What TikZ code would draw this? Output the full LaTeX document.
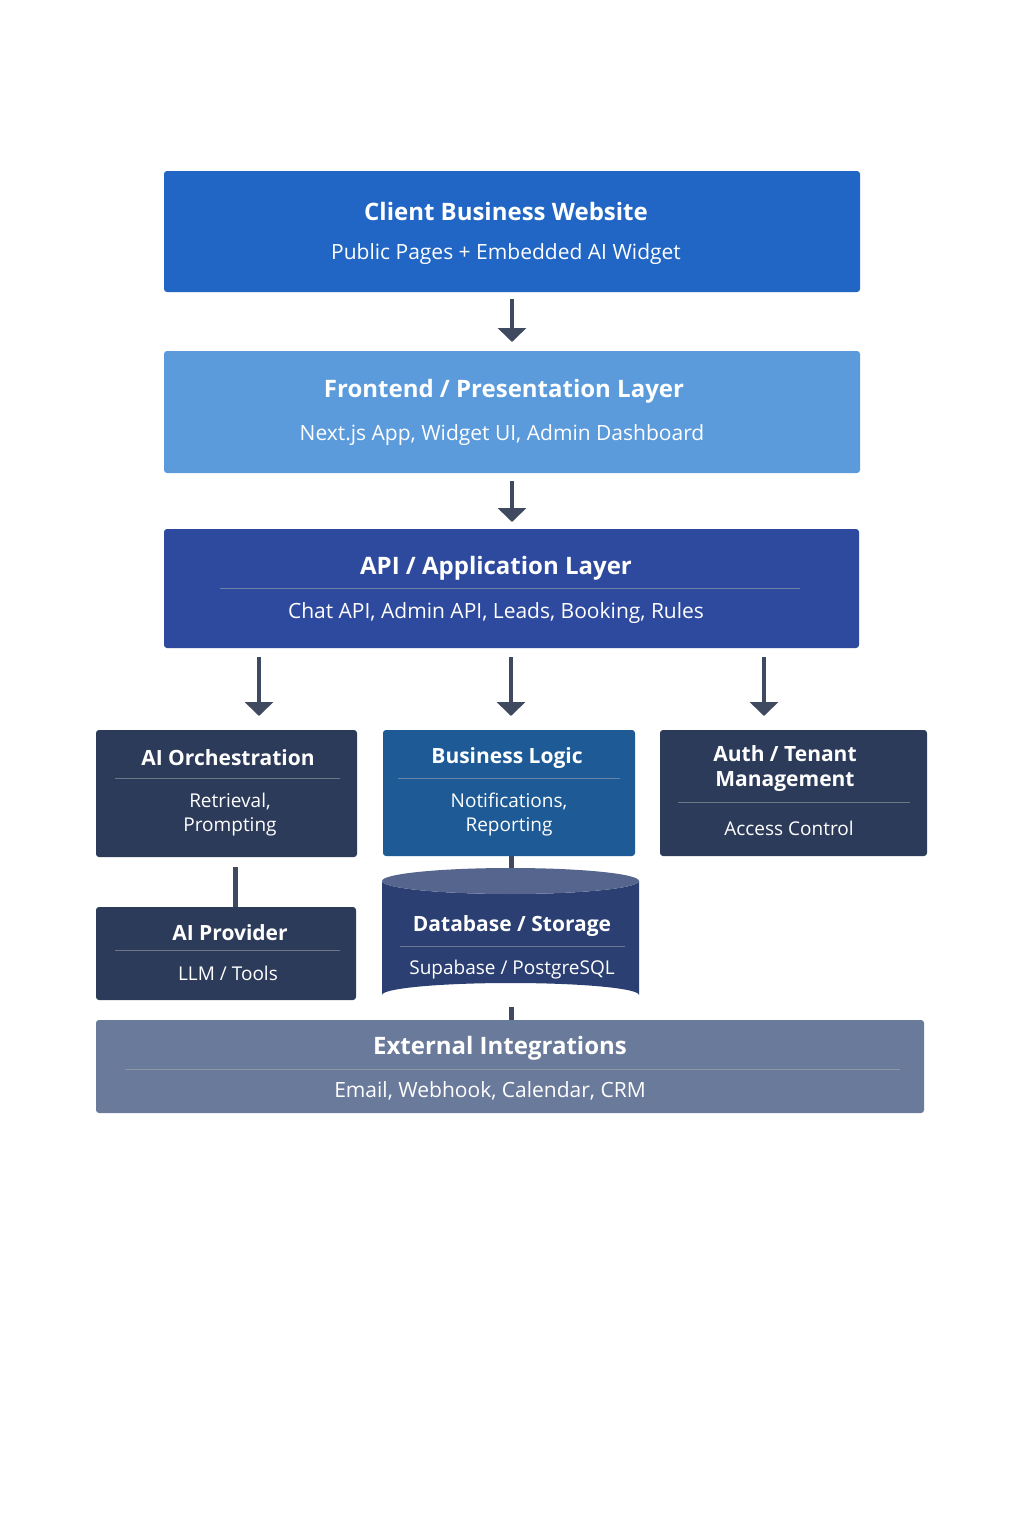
\documentclass[tikz,border=0pt]{standalone}
\usepackage{fontspec}
\setmainfont{Open Sans}
\usetikzlibrary{arrows.meta,shapes.geometric}
\definecolor{cA}{HTML}{2166C4}
\definecolor{cB}{HTML}{5B9BDB}
\definecolor{cC}{HTML}{2E4A9E}
\definecolor{cD}{HTML}{2D3B5A}
\definecolor{cE}{HTML}{1E5A96}
\definecolor{cF}{HTML}{2B3F72}
\definecolor{cG}{HTML}{6A7A9A}
\definecolor{ar}{HTML}{3F4A60}
\begin{document}
\begin{tikzpicture}[x=1pt,y=-1pt,
  box/.style={draw=none,rounded corners=3pt},
  ttl/.style={text=white,font=\bfseries\fontsize{24}{28}\selectfont,align=center},
  sub/.style={text=white,font=\fontsize{21}{26}\selectfont,align=center},
  ttls/.style={text=white,font=\bfseries\fontsize{21}{25}\selectfont,align=center},
  subs/.style={text=white,font=\fontsize{19}{24}\selectfont,align=center},
  sep/.style={white!70!black,opacity=0.5,line width=0.6pt},
  arr/.style={ar,line width=4pt,-{Triangle[length=14pt,width=28pt]}},
  ln/.style={ar,line width=5pt}]
\useasboundingbox (0,0) rectangle (1024,1536);
\fill[white] (0,0) rectangle (1024,1536);
% boxes
\fill[box,cA] (164,171) rectangle (860,292);
\node[ttl] (t1) at (506,211) {Client Business Website};
\node[sub] (s1) at (506,254) {Public Pages + Embedded AI Widget};
\fill[box,cB] (164,351) rectangle (860,473);
\node[ttl] (t2) at (504,391) {Frontend / Presentation Layer};
\node[sub] (s2) at (502,435) {Next.js App, Widget UI, Admin Dashboard};
\fill[box,cC] (164,529) rectangle (859,648);
\node[ttl] (t3) at (496,568) {API / Application Layer};
\draw[sep] (220,588) -- (800,588);
\node[sub] (s3) at (496,613) {Chat API, Admin API, Leads, Booking, Rules};
\fill[box,cD] (96,730) rectangle (357,857);
\node[ttls] (t4) at (228,758) {AI Orchestration};
\draw[sep] (115,778) -- (340,778);
\node[subs] (s4) at (230,815) {Retrieval,\\Prompting};
\fill[box,cE] (383,730) rectangle (635,856);
\node[ttls] (t5) at (507,758) {Business Logic};
\draw[sep] (398,778) -- (620,778);
\node[subs] (s5) at (509,815) {Notifications,\\Reporting};
\fill[box,cD] (660,730) rectangle (927,856);
\node[ttls] (t6) at (785,769) {Auth / Tenant\\Management};
\draw[sep] (678,802) -- (910,802);
\node[subs] (s6) at (789,828) {Access Control};
\fill[box,cD] (96,907) rectangle (356,1000);
\node[ttls] (t7) at (230,933) {AI Provider};
\draw[sep] (115,950) -- (340,950);
\node[subs] (s7) at (228,973) {LLM / Tools};
% cylinder
\fill[cF] (382,881) -- (382,995) arc[start angle=180,end angle=360,x radius=128.5,y radius=12] -- (639,881) arc[start angle=0,end angle=180,x radius=128.5,y radius=13];
\fill[cF!80!white] (510.5,881) ellipse[x radius=128.5,y radius=13];
\node[ttls] (t8) at (512,926) {Database / Storage};
\draw[sep] (400,946) -- (625,946);
\node[subs] (s8) at (512,970) {Supabase / PostgreSQL};
\fill[box,cG] (96,1020) rectangle (924,1113);
\node[ttl] (t9) at (500,1048) {External Integrations};
\draw[sep] (125,1069) -- (900,1069);
\node[sub] (s9) at (490,1091) {Email, Webhook, Calendar, CRM};
% connectors
\coordinate (a1) at (512,299); \coordinate (b1) at (512,342);
\coordinate (a2) at (512,481); \coordinate (b2) at (512,522);
\coordinate (a3) at (259,657); \coordinate (b3) at (259,716);
\coordinate (a4) at (511,657); \coordinate (b4) at (511,716);
\coordinate (a5) at (764,657); \coordinate (b5) at (764,716);
\draw[arr] (a1) -- (b1);
\draw[arr] (a2) -- (b2);
\draw[arr] (a3) -- (b3);
\draw[arr] (a4) -- (b4);
\draw[arr] (a5) -- (b5);
\coordinate (c1) at (235,867); \coordinate (d1) at (235,907);
\coordinate (c2) at (511,856); \coordinate (d2) at (511,868);
\coordinate (c3) at (511,1007); \coordinate (d3) at (511,1020);
\draw[ln] (c1) -- (d1);
\draw[ln] (c2) -- (d2);
\draw[ln] (c3) -- (d3);
\end{tikzpicture}
\end{document}
